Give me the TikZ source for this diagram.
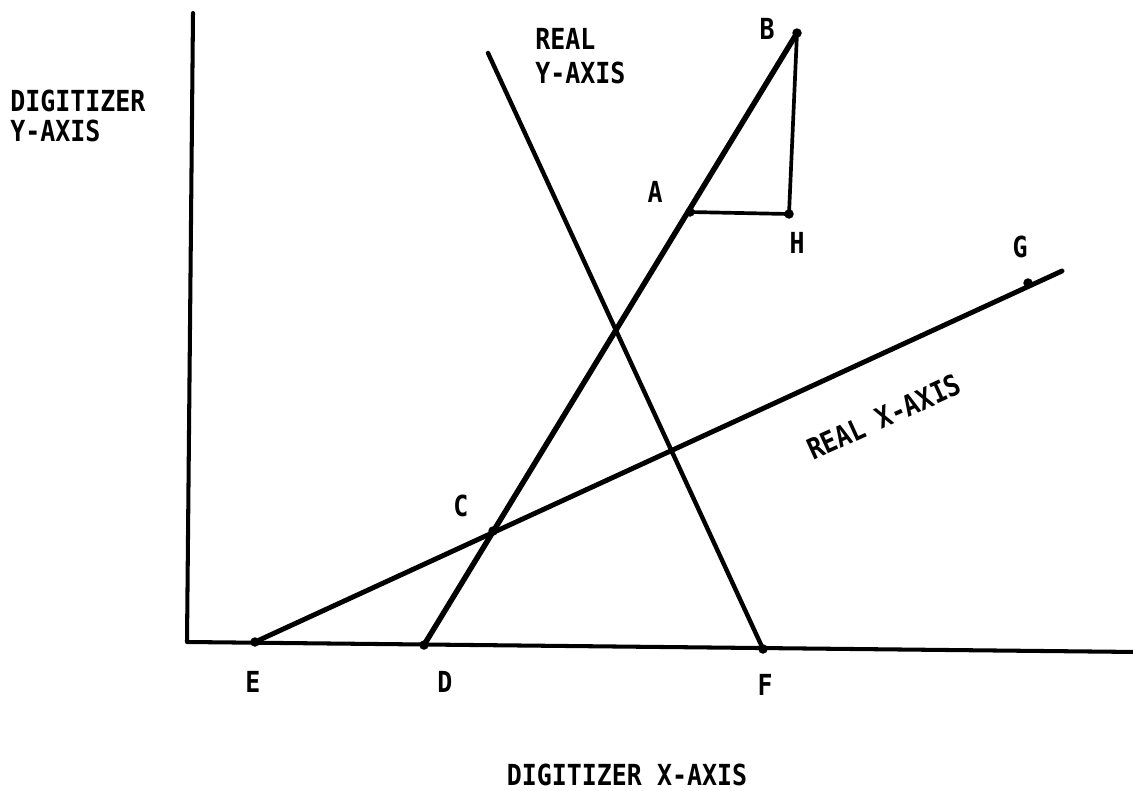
\documentclass[tikz,border=0pt]{standalone}
\usepackage{fontspec}
\newfontfamily\labfont[FakeStretch=0.86]{DejaVu Sans Mono}
\begin{document}
\begin{tikzpicture}[x=0.02cm,y=-0.02cm,every node/.style={font=\labfont\bfseries\fontsize{16.5}{17}\selectfont,inner sep=0pt},
  pt/.style={circle,fill,inner sep=0pt,minimum size=0.19cm},
  axis/.style={line width=2.3pt,line cap=round}]
\useasboundingbox (0,0) rectangle (1133,791);
% digitizer axes
\coordinate (O) at (187,642); \coordinate (Ytop) at (193,13); \coordinate (Xend) at (1138,652);
\draw[axis,line join=round] (Ytop) -- (O) -- (Xend);
% points
\coordinate (E) at (255,642); \coordinate (D) at (424,645); \coordinate (F) at (763,649);
\coordinate (C) at (493,531); \coordinate (A) at (690,212); \coordinate (B) at (797,33);
\coordinate (H) at (789,214); \coordinate (G) at (1028,283);
\coordinate (Yr) at (488,53); \coordinate (Xr) at (1062,271);
% real axes and the A-B-H triangle
\draw[axis,line width=2.5pt] (Yr) -- (F);
\draw[axis,line width=2.8pt] (E) -- (Xr);
\draw[axis,line width=3.1pt] (D) -- (B);
\draw[axis,line width=2.1pt,line join=round] (A) -- (H) -- (B);
\foreach \p in {E,D,F,C,A,H,B,G} {\node[pt] at (\p) {};}
% labels
\node[align=left,anchor=west] (ylab) at (10,116) {DIGITIZER\\Y-AXIS};
\node[align=left,anchor=west] (yrlab) at (535,56) {REAL\\[2pt]Y-AXIS};
\node (xlab) at (627,775) {DIGITIZER X-AXIS};
\node[rotate=24.4] (xrlab) at (884,417) {REAL X-AXIS};
\node (lB) at (767,29) {B}; \node (lA) at (655,192) {A}; \node (lH) at (797,243) {H};
\node (lG) at (1020,247) {G}; \node (lC) at (461,506) {C};
\node (lE) at (253,682) {E}; \node (lD) at (445,682) {D}; \node (lF) at (765,685) {F};
\end{tikzpicture}
\end{document}
